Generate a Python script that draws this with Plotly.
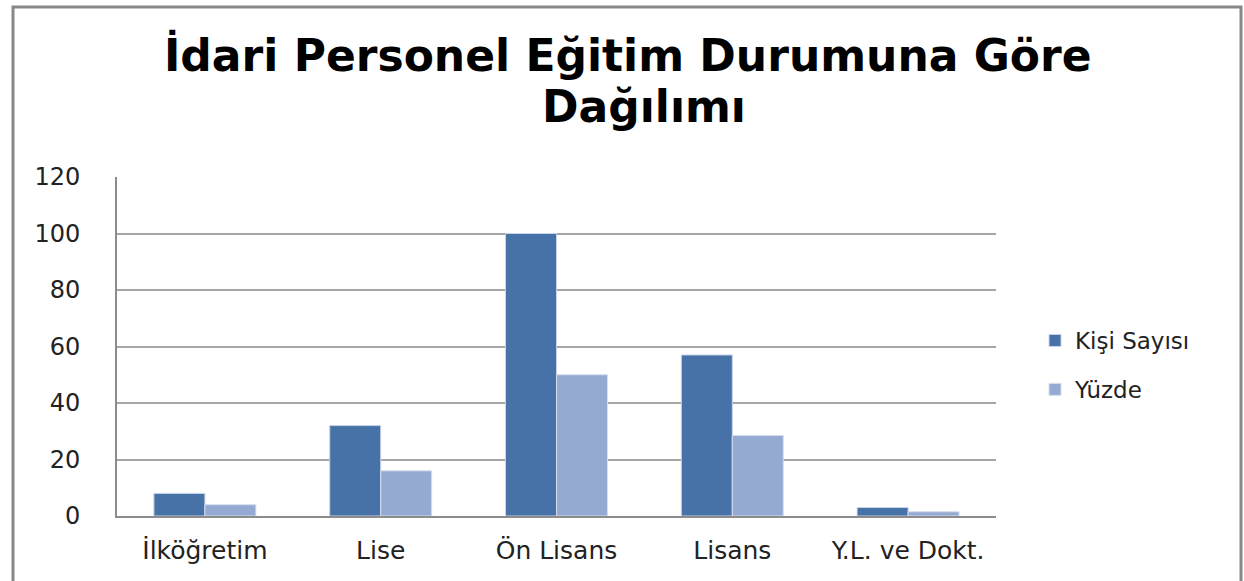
import plotly.graph_objects as go

categories = ["İlköğretim", "Lise", "Ön Lisans", "Lisans", "Y.L. ve Dokt."]
kisi_sayisi = [8, 32, 100, 57, 3]
yuzde = [4, 16, 50, 28.5, 1.5]
y_ticks = [0, 20, 40, 60, 80, 100, 120]

W, H = 1244, 581
L, R, T, B = 117, 248, 177, 65
pw, ph = W - L - R, H - T - B

def px_x(x):
    return (x - L) / pw

def px_y(y):
    return (H - B - y) / ph

FONT = "DejaVu Sans, Verdana, sans-serif"

fig = go.Figure()
fig.add_trace(go.Bar(name="Kişi Sayısı", x=categories, y=kisi_sayisi, legendgroup="a",
                     marker=dict(color="#4672A8", line=dict(color="#C8D4E6", width=1))))
fig.add_trace(go.Bar(name="Yüzde", x=categories, y=yuzde, legendgroup="b",
                     marker=dict(color="#95AAD2", line=dict(color="#D6DEEE", width=1))))

fig.update_layout(
    width=W, height=H,
    margin=dict(l=L, r=R, t=T, b=B, autoexpand=False),
    paper_bgcolor="white", plot_bgcolor="white",
    barmode="group", bargap=0.42, bargroupgap=0,
    font=dict(family=FONT, color="#222222"),
    annotations=[
        dict(text="<b>İdari Personel Eğitim Durumuna Göre</b>", xref="paper", yref="paper",
             x=px_x(628), y=px_y(55), xanchor="center", yanchor="middle", showarrow=False,
             font=dict(size=44, color="#000000", family=FONT)),
        dict(text="<b>Dağılımı</b>", xref="paper", yref="paper",
             x=px_x(644), y=px_y(107), xanchor="center", yanchor="middle", showarrow=False,
             font=dict(size=44, color="#000000", family=FONT)),
    ],
    legend=dict(x=px_x(1035), y=px_y(365), xanchor="left", yanchor="middle",
                font=dict(size=23, color="#222222"), tracegroupgap=16,
                bgcolor="rgba(0,0,0,0)"),
    xaxis=dict(showgrid=False, showline=True, linecolor="#8C8C8C", linewidth=2,
               ticks="", tickfont=dict(size=25, color="#222222"), ticklabelstandoff=11),
    yaxis=dict(range=[0, 120], tickvals=y_ticks, showgrid=True, gridcolor="#A6A6A6",
               gridwidth=2, showline=True, linecolor="#8C8C8C", linewidth=2,
               ticks="", tickfont=dict(size=24, color="#222222"), zeroline=False,
               ticklabelstandoff=30),
    shapes=[dict(type="rect", xref="paper", yref="paper",
                 x0=px_x(13), x1=px_x(1241), y0=px_y(595), y1=px_y(7),
                 line=dict(color="#888888", width=3), fillcolor="rgba(0,0,0,0)", layer="below")],
)

fig.write_html("out.html", config={"displayModeBar": False},
               post_script="document.body.style.margin='0';")
